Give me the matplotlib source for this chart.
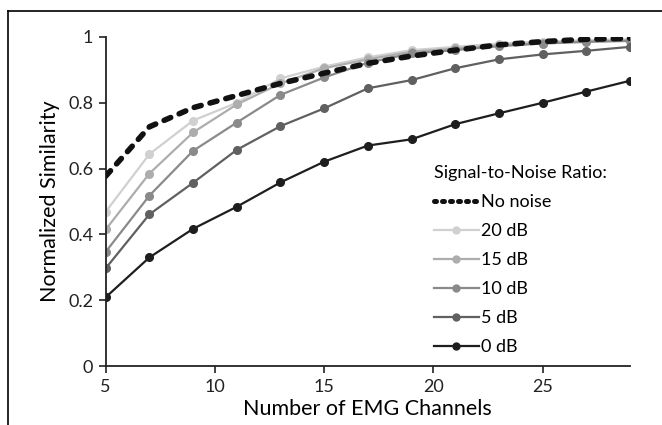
"""Normalized similarity vs. number of EMG channels for several SNR levels."""

import matplotlib.pyplot as plt
from matplotlib.lines import Line2D

plt.rcParams["font.family"] = ["Lato", "DejaVu Sans"]

CHANNELS = [5, 7, 9, 11, 13, 15, 17, 19, 21, 23, 25, 27, 29]
NO_NOISE = [0.577, 0.727, 0.785, 0.822, 0.859, 0.890, 0.920, 0.942, 0.960, 0.976, 0.986, 0.993, 0.996]
SNR_20 = [0.469, 0.644, 0.746, 0.800, 0.874, 0.910, 0.938, 0.960, 0.970, 0.980, 0.986, 0.990, 0.993]
SNR_15 = [0.415, 0.585, 0.710, 0.795, 0.859, 0.905, 0.932, 0.955, 0.965, 0.975, 0.982, 0.987, 0.990]
SNR_10 = [0.347, 0.518, 0.654, 0.740, 0.824, 0.877, 0.922, 0.950, 0.960, 0.972, 0.980, 0.985, 0.988]
SNR_5 = [0.297, 0.461, 0.557, 0.657, 0.729, 0.783, 0.844, 0.869, 0.905, 0.932, 0.947, 0.958, 0.970]
SNR_0 = [0.209, 0.330, 0.417, 0.484, 0.558, 0.621, 0.670, 0.689, 0.735, 0.768, 0.800, 0.834, 0.867]

SERIES = [
    ("20 dB", SNR_20, "#d0d0d0"),
    ("15 dB", SNR_15, "#adadad"),
    ("10 dB", SNR_10, "#8a8a8a"),
    ("5 dB", SNR_5, "#606060"),
    ("0 dB", SNR_0, "#1e1e1e"),
]


def main() -> None:
    fig = plt.figure(figsize=(6.62, 4.25), dpi=100)
    ax = fig.add_axes([0.1597, 0.1388, 0.792, 0.7742])

    for label, values, color in SERIES:
        ax.plot(CHANNELS, values, color=color, lw=1.6, marker="o", ms=5.5,
                mec=color, mfc=color, label=label)
    ax.plot(CHANNELS, NO_NOISE, color="#111111", lw=4.0, dashes=(1.3, 1.65),
            dash_capstyle="round", label="No noise", zorder=5)

    ax.set_xlim(5, 29)
    ax.set_ylim(0, 1)
    ax.set_xticks([5, 10, 15, 20, 25])
    ax.set_yticks([0, 0.2, 0.4, 0.6, 0.8, 1.0])
    ax.set_yticklabels(["0", "0.2", "0.4", "0.6", "0.8", "1"])
    ax.spines["top"].set_visible(False)
    ax.spines["right"].set_visible(False)
    for side in ("left", "bottom"):
        ax.spines[side].set_linewidth(1.3)
        ax.spines[side].set_color("#222222")
    ax.tick_params(direction="out", length=5, width=1.2, labelsize=13, colors="#222222", pad=4)
    ax.set_xlabel("Number of EMG Channels", fontsize=15.5, labelpad=3)
    ax.set_ylabel("Normalized Similarity", fontsize=15.5, labelpad=6)

    legend_handles = [Line2D([], [], color="#111111", lw=3.6, dashes=(0.4, 1.2), dash_capstyle="round")]
    legend_handles += [Line2D([], [], color=c, lw=1.6, marker="o", ms=5, mec=c, mfc=c) for _, _, c in SERIES]
    ax.legend(legend_handles, ["No noise"] + [s[0] for s in SERIES],
              title="Signal-to-Noise Ratio:", alignment="left",
              loc="upper left", bbox_to_anchor=(0.655, 0.612), bbox_transform=fig.transFigure,
              frameon=False, fontsize=13, title_fontsize=13, handlelength=2.5,
              handletextpad=0.12, labelspacing=0.72, borderpad=0, borderaxespad=0)

    # frame lines around the picture (top and left only)
    fig.add_artist(Line2D([8 / 662, 1], [1 - 11 / 425] * 2, transform=fig.transFigure, color="black", lw=1.2))
    fig.add_artist(Line2D([8 / 662] * 2, [0, 1 - 11 / 425], transform=fig.transFigure, color="black", lw=1.2))

    fig.savefig("out.png", dpi=100)
    plt.close(fig)


if __name__ == "__main__":
    main()
